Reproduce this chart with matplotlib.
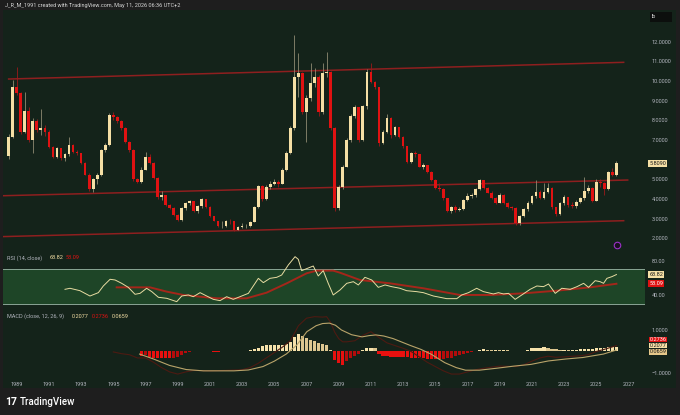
import numpy as np
import pandas as pd
import matplotlib
matplotlib.use("Agg")
import matplotlib.pyplot as plt
from matplotlib.patches import Rectangle

plt.rcParams['font.family'] = ['Roboto', 'DejaVu Sans']

# ---------------- data (quarterly candles, 1988 Q3 .. 2026 Q2) ----------------
quarters = pd.period_range('1988Q3', '2026Q2', freq='Q')
first_open = 6.20
closes = [
    7.17, 9.71,
    9.37, 7.42, 8.49, 7.00,
    7.98, 7.50, 7.59, 7.42,
    6.66, 6.15, 6.57, 6.06,
    6.28, 6.74, 6.40, 6.32,
    5.84, 5.22, 4.49, 4.99,
    5.22, 6.49, 6.74, 8.27,
    8.15, 7.95, 7.60, 6.91,
    6.50, 4.99, 4.88, 5.47,
    6.15, 5.85, 5.05, 4.10,
    4.20, 3.68, 3.55, 3.20,
    2.93, 3.55, 3.77, 3.88,
    3.40, 3.64, 3.97, 3.60,
    3.12, 2.88, 2.60, 2.62,
    2.89, 2.85, 2.42, 2.55,
    2.60, 2.62, 2.84, 3.60,
    4.66, 3.98, 4.62, 4.76,
    4.88, 4.76, 5.47, 6.35,
    7.59, 10.19, 10.39, 8.44,
    9.12, 9.88, 10.22, 8.44,
    10.39, 10.47, 7.60, 3.52,
    4.62, 5.64, 6.99, 8.22,
    8.66, 6.99, 8.73, 10.47,
    9.97, 9.68, 6.83, 7.42,
    8.10, 7.25, 7.64, 7.17,
    6.69, 5.90, 6.35, 6.28,
    5.64, 5.70, 5.39, 4.96,
    4.54, 4.49, 4.03, 3.40,
    3.57, 3.42, 3.47, 3.94,
    4.15, 4.20, 4.49, 4.96,
    4.54, 4.32, 4.03, 3.81,
    4.20, 3.77, 3.57, 3.55,
    2.75, 3.13, 3.47, 3.81,
    4.15, 4.37, 4.03, 4.37,
    4.54, 3.57, 3.23, 3.77,
    4.08, 3.69, 3.62, 3.85,
    4.03, 4.40, 4.54, 3.91,
    4.88, 4.80, 4.50, 5.35,
    5.22, 5.809,
]
highs = [
    7.30, 10.05,
    10.73, 9.45, 9.46, 8.70,
    8.10, 8.05, 8.60, 7.75,
    7.50, 6.70, 6.65, 6.60,
    6.35, 7.17, 6.80, 6.50,
    6.35, 5.90, 5.30, 5.05,
    5.30, 6.55, 6.85, 8.35,
    8.40, 8.20, 8.00, 7.65,
    6.95, 6.55, 5.05, 5.60,
    6.40, 6.30, 5.90, 5.10,
    4.40, 4.22, 3.75, 3.58,
    3.22, 3.60, 3.85, 3.95,
    3.90, 3.70, 4.05, 4.00,
    3.62, 3.15, 2.90, 2.85,
    2.95, 3.00, 2.88, 2.62,
    2.75, 2.72, 2.90, 3.65,
    4.70, 4.70, 4.70, 4.90,
    5.00, 4.95, 5.55, 6.45,
    7.70, 12.34, 11.41, 10.45,
    9.30, 10.90, 10.64, 10.30,
    10.90, 11.49, 10.50, 7.65,
    4.70, 5.70, 7.10, 8.30,
    8.80, 8.70, 8.80, 10.60,
    10.90, 10.00, 9.70, 7.50,
    8.30, 8.15, 7.70, 7.65,
    7.20, 6.70, 6.40, 6.45,
    6.30, 5.85, 5.75, 5.40,
    5.00, 4.80, 4.55, 4.05,
    3.65, 3.70, 3.60, 4.00,
    4.30, 4.30, 4.55, 5.00,
    4.98, 4.60, 4.38, 4.10,
    4.30, 4.25, 3.85, 3.65,
    3.60, 3.20, 3.55, 3.90,
    4.20, 4.96, 4.45, 4.80,
    4.83, 4.60, 3.60, 3.85,
    4.20, 4.12, 3.85, 3.95,
    4.10, 5.13, 4.70, 4.60,
    5.00, 5.00, 4.85, 5.40,
    5.55, 5.95,
]
lows = [
    6.05, 7.10,
    9.30, 7.30, 7.35, 6.90,
    6.32, 7.40, 7.25, 7.20,
    6.60, 6.10, 6.10, 6.00,
    5.95, 6.20, 6.35, 6.25,
    5.80, 5.20, 4.40, 4.37,
    4.76, 5.18, 6.40, 6.70,
    8.00, 7.85, 7.50, 6.85,
    6.40, 4.90, 4.80, 4.83,
    5.45, 5.80, 5.00, 4.00,
    3.95, 3.62, 3.50, 3.15,
    2.88, 2.90, 3.45, 3.70,
    3.35, 3.30, 3.55, 3.55,
    3.08, 2.85, 2.55, 2.50,
    2.58, 2.70, 2.38, 2.40,
    2.50, 2.52, 2.58, 2.80,
    3.55, 3.90, 3.95, 4.50,
    4.70, 4.60, 4.75, 5.40,
    6.30, 7.50, 9.20, 8.30,
    6.91, 9.00, 9.70, 8.20,
    8.30, 10.20, 7.50, 3.40,
    3.45, 4.50, 5.60, 6.90,
    8.10, 6.90, 6.95, 8.60,
    9.90, 9.60, 6.70, 6.80,
    7.35, 7.10, 7.20, 7.10,
    6.60, 5.85, 5.85, 6.15,
    5.60, 5.50, 5.30, 4.90,
    4.50, 4.40, 3.95, 3.35,
    3.30, 3.35, 3.38, 3.45,
    3.90, 4.05, 4.10, 4.45,
    4.50, 4.28, 4.00, 3.75,
    3.78, 3.72, 3.52, 3.45,
    2.65, 2.67, 3.10, 3.40,
    3.75, 4.03, 4.00, 4.00,
    4.30, 3.50, 3.15, 3.20,
    3.70, 3.60, 3.55, 3.55,
    3.80, 3.95, 4.30, 3.85,
    3.88, 4.60, 4.20, 4.45,
    5.15, 5.15,
]
opens = [first_open] + closes[:-1]

# channel lines (start/end time, start/end price)
channel_t = [(1988.5, 2026.7), (1988.1, 2026.95), (1988.1, 2026.7)]
channel_p = [(10.10, 10.95), (4.16, 4.96), (2.08, 2.89)]

# RSI(14) (decimal year, value)
rsi_t = [1992.00, 1992.31, 1992.93, 1993.55, 1994.07, 1994.38, 1994.80, 1995.11, 1995.52, 1995.93,
         1996.35, 1996.66, 1997.07, 1997.39, 1997.80, 1998.32, 1998.94, 1999.25, 1999.66, 1999.97,
         2000.39, 2000.80, 2001.21, 2001.63, 2002.04, 2002.45, 2002.87, 2003.39, 2004.01, 2004.32,
         2004.73, 2005.15, 2005.46, 2005.87, 2006.29, 2006.49, 2006.70, 2007.42, 2007.73, 2008.04,
         2008.35, 2008.66, 2009.08, 2009.50, 2009.91, 2010.22, 2010.63, 2011.05, 2011.46, 2011.88,
         2012.29, 2012.81, 2013.22, 2013.84, 2014.26, 2014.88, 2015.29, 2015.71, 2016.33, 2016.64,
         2017.06, 2017.57, 2017.99, 2018.61, 2018.92, 2019.24, 2019.55, 2019.96, 2020.37, 2020.89,
         2021.31, 2021.72, 2022.03, 2022.45, 2022.86, 2023.38, 2023.80, 2024.21, 2024.52, 2024.93,
         2025.24, 2025.45, 2025.66, 2025.97, 2026.25]
rsi_v = [46.6, 47.8, 45.0, 38.8, 42.7, 50.5, 58.3, 57.5, 53.6, 48.9,
         40.8, 41.9, 47.8, 43.9, 37.3, 36.1, 32.2, 38.8, 40.0, 38.0,
         42.7, 38.8, 34.9, 33.4, 38.0, 34.9, 38.0, 41.9, 59.4, 54.4,
         59.4, 60.6, 63.3, 75.0, 84.7, 81.6, 68.4, 73.8, 62.2, 68.4,
         53.6, 40.0, 45.8, 53.6, 55.5, 51.7, 60.6, 57.5, 48.9, 51.7,
         49.7, 47.8, 45.0, 43.9, 42.7, 38.8, 37.3, 35.7, 35.7, 40.0,
         42.7, 47.8, 43.9, 41.2, 42.7, 41.2, 41.9, 34.9, 40.0, 46.6,
         50.5, 49.7, 52.8, 41.9, 47.8, 46.6, 49.7, 53.6, 48.9, 56.7,
         55.5, 53.6, 59.4, 61.4, 63.82]
rsi_ma_t = [1995.21, 1997.28, 1998.32, 1999.35, 2001.42, 2003.28, 2004.52, 2005.77, 2007.01, 2007.63,
            2008.66, 2009.08, 2010.32, 2012.18, 2014.26, 2016.53, 2018.40, 2020.47, 2022.54, 2024.61, 2026.25]
rsi_ma_v = [48.9, 48.9, 43.9, 40.0, 36.1, 36.1, 42.7, 53.6, 65.3, 68.4,
            68.4, 66.0, 57.5, 53.6, 47.8, 40.0, 40.0, 41.9, 45.0, 48.9, 53.09]

# MACD (12, 26, 9): signal line (gold), MACD line (dark red), histogram
signal_t = [1996.63, 1997.5, 1998.5, 1999.53, 2000.6, 2001.5, 2002.5, 2003.39, 2004.3, 2005.0,
            2005.74, 2006.4, 2007.02, 2007.6, 2008.0, 2008.42, 2008.8, 2009.17, 2009.8, 2010.45,
            2010.9, 2011.31, 2011.8, 2012.38, 2013.45, 2014.1, 2014.73, 2015.59, 2016.3, 2016.88,
            2017.73, 2018.8, 2019.88, 2020.94, 2022.02, 2023.1, 2024.16, 2025.44, 2026.25]
signal_v = [-0.12, -0.35, -0.65, -0.84, -0.90, -0.90, -0.90, -0.86, -0.70, -0.45,
            -0.12, 0.30, 0.92, 1.20, 1.30, 1.32, 1.22, 1.00, 0.78, 0.68,
            0.74, 0.77, 0.72, 0.60, 0.28, 0.10, -0.12, -0.52, -0.75, -0.87,
            -0.87, -0.78, -0.68, -0.60, -0.44, -0.35, -0.28, -0.12, 0.0659]
macd_t = [1995.0, 1995.5, 1996.0, 1996.5, 1997.0, 1997.5, 1998.0, 1998.5, 1999.0, 1999.5,
          2000.0, 2001.0, 2002.0, 2003.0, 2003.5, 2004.0, 2004.5, 2005.0, 2005.5, 2006.0,
          2006.5, 2007.0, 2007.5, 2008.0, 2008.25, 2008.5, 2008.75, 2009.0, 2009.25, 2009.5,
          2010.0, 2010.5, 2011.0, 2011.5, 2012.0, 2013.0, 2013.5, 2014.0, 2014.5, 2015.0,
          2015.5, 2016.0, 2016.5, 2017.0, 2017.5, 2018.0, 2019.0, 2020.0, 2020.5, 2021.0,
          2021.5, 2022.0, 2022.5, 2023.0, 2024.0, 2024.5, 2025.0, 2025.5, 2026.25]
macd_v = [-0.02, -0.10, -0.15, -0.30, -0.30, -0.50, -0.75, -0.95, -1.05, -0.95,
          -0.88, -0.90, -0.88, -0.85, -0.75, -0.55, -0.30, -0.05, 0.20, 0.50,
          1.20, 1.55, 1.62, 1.60, 1.62, 1.35, 0.90, 0.60, 0.45, 0.45,
          0.50, 0.75, 0.92, 0.65, 0.40, 0.15, 0.00, -0.25, -0.50, -0.70,
          -0.90, -1.05, -1.05, -0.95, -0.85, -0.78, -0.68, -0.70, -0.62, -0.45,
          -0.30, -0.22, -0.27, -0.25, -0.20, -0.15, 0.00, 0.10, 0.2736]
# histogram, quarterly from 1996 Q4 to 2026 Q2
hist = [
    -0.20,                          # 1996 Q4
    -0.15, -0.25, -0.30, -0.30,     # 1997
    -0.30, -0.32, -0.32, -0.30,     # 1998
    -0.25, -0.15, -0.08, -0.03,     # 1999
    0.01, 0.03, 0.03, 0.02,         # 2000
    0.00, -0.01, -0.01, 0.00,       # 2001
    0.01, 0.02, 0.02, 0.02,         # 2002
    0.03, 0.04, 0.06, 0.10,         # 2003
    0.18, 0.25, 0.28, 0.30,         # 2004
    0.30, 0.30, 0.31, 0.35,         # 2005
    0.43, 0.67, 0.80, 0.70,         # 2006
    0.64, 0.55, 0.48, 0.40,         # 2007
    0.35, 0.32, 0.06, -0.40,        # 2008
    -0.55, -0.61, -0.45, -0.29,     # 2009
    -0.20, -0.10, 0.06, 0.16,       # 2010
    0.16, 0.15, -0.13, -0.22,       # 2011
    -0.23, -0.24, -0.25, -0.25,     # 2012
    -0.26, -0.27, -0.28, -0.29,     # 2013
    -0.29, -0.30, -0.33, -0.36,     # 2014
    -0.37, -0.37, -0.33, -0.29,     # 2015
    -0.28, -0.22, -0.16, -0.10,     # 2016
    -0.05, -0.02, 0.04, 0.08,       # 2017
    0.10, 0.09, 0.08, 0.08,         # 2018
    0.07, 0.07, 0.06, 0.04,         # 2019
    0.01, 0.01, 0.03, 0.08,         # 2020
    0.14, 0.17, 0.18, 0.19,         # 2021
    0.18, 0.13, 0.10, 0.09,         # 2022
    0.09, 0.08, 0.08, 0.09,         # 2023
    0.10, 0.11, 0.12, 0.12,         # 2024
    0.15, 0.17, 0.18, 0.19,         # 2025
    0.20, 0.2077,                   # 2026
]

years_lbl = list(range(1989, 2028, 2))
price_ticks = [2, 3, 4, 5, 7, 8, 9, 10, 11, 12]

# ---------------- styling ----------------
FIG_BG = '#1e1e1e'
CARD = '#14231a'
UP = '#f5dfa5'
DN = '#e01212'
TXT = '#b2b5be'
CHAN = '#8e1f1f'

W, H = 680, 415
fig = plt.figure(figsize=(6.8, 4.15), dpi=100, facecolor=FIG_BG)

def ax_rect(x0, y0, x1, y1):
    return [x0 / W, 1 - y1 / H, (x1 - x0) / W, (y1 - y0) / H]

fig.patches.append(Rectangle((3 / W, 1 - 388 / H), 673 / W, 378 / H, transform=fig.transFigure,
                             facecolor=CARD, edgecolor='none', zorder=-10))

ax = fig.add_axes(ax_rect(3, 10, 645, 250))
ax_r = fig.add_axes(ax_rect(3, 252, 645, 310), sharex=ax)
ax_m = fig.add_axes(ax_rect(3, 310, 645, 376), sharex=ax)

t = np.array([q.start_time.year + (q.quarter - 1) / 4 for q in quarters])
o = np.array(opens); c = np.array(closes); hi = np.array(highs); lo = np.array(lows)
up = c >= o
col = np.where(up, UP, DN)
wcol = np.where(up, '#8f8b72', '#9a1a1a')

for a in (ax, ax_r, ax_m):
    a.set_facecolor('none')
    for s in a.spines.values():
        s.set_visible(False)
    a.tick_params(axis='both', length=0, colors=TXT, labelsize=4)
    a.yaxis.tick_right()
    a.tick_params(axis='y', pad=5)

# channels
for (t0, t1), (p0, p1) in zip(channel_t, channel_p):
    ax.plot([t0, t1], [p0, p1], color=CHAN, lw=1.1, zorder=1)

ax.vlines(t, lo, hi, colors=wcol, lw=0.6, zorder=2)
ax.bar(t, np.maximum(np.abs(c - o), 0.03), bottom=np.minimum(o, c), width=0.17,
       color=col, linewidth=0, zorder=3)

ax.set_xlim(1988.149, 2028.025)
ax.set_ylim(1.399, 13.613)
ax.set_yticks(price_ticks)
ax.set_yticklabels([f'{v:.4f}' for v in price_ticks])
ax.tick_params(axis='x', labelbottom=False)

# last price label
ax.annotate('5.8090', xy=(1.0, closes[-1]), xycoords=('axes fraction', 'data'),
            xytext=(3.0, 0), textcoords='offset points', va='center', ha='left',
            fontsize=4, color='#1a1a1a',
            bbox=dict(boxstyle='square,pad=0.2', fc=UP, ec='none'))
# unit box
fig.patches.append(Rectangle((650 / W, 1 - 22 / H), 22 / W, 10 / H, transform=fig.transFigure,
                             facecolor='#0c0f0d', edgecolor='none', zorder=5))
fig.text(652 / W, 1 - 17 / H, 'lb', fontsize=4, color='#d0d0d0', va='center', ha='left', zorder=6)
# purple icon
ax.scatter([0.956], [0.021], transform=ax.transAxes, s=22, facecolor='#1a1020',
           edgecolor='#9b30c8', lw=0.8, zorder=5)

# RSI pane
ax_r.axhspan(30, 70, color='#1e4527', zorder=0, lw=0)
ax_r.axhline(70, color='#8aa595', lw=0.7)
ax_r.axhline(30, color='#8aa595', lw=0.7)
ax_r.plot(rsi_ma_t, rsi_ma_v, color='#a5261a', lw=1.4, zorder=2)
ax_r.plot(rsi_t, rsi_v, color='#e8dca2', lw=0.7, zorder=3)
ax_r.set_ylim(22.47, 90.15)
ax_r.set_yticks([40, 80])
ax_r.set_yticklabels(['40.00', '80.00'])
ax_r.tick_params(axis='x', labelbottom=False)
ax_r.text(0.006, 0.9, 'RSI (14, close)', transform=ax_r.transAxes, fontsize=4, color=TXT, va='center')
ax_r.text(0.073, 0.9, '63.82', transform=ax_r.transAxes, fontsize=4, color=UP, va='center')
ax_r.text(0.098, 0.9, '53.09', transform=ax_r.transAxes, fontsize=4, color=DN, va='center')
for val, fc, tc in [(63.82, UP, '#1a1a1a'), (53.09, DN, '#ffffff')]:
    ax_r.annotate(f'{val:.2f}', xy=(1.0, val), xycoords=('axes fraction', 'data'),
                  xytext=(3.0, 0), textcoords='offset points', va='center', ha='left',
                  fontsize=4, color=tc, bbox=dict(boxstyle='square,pad=0.2', fc=fc, ec='none'))

# MACD pane
ht = t[t >= 1996.75]
hv = np.array(hist)
prev = np.concatenate([[0.0], hv[:-1]])
hcol = np.where(hv >= 0, np.where(hv >= prev, '#f6e2ab', '#dcc690'),
                np.where(hv <= prev, '#e8100f', '#b30c0c'))
ax_m.bar(ht, hv, width=0.2, color=hcol, linewidth=0, zorder=2)
ax_m.plot(macd_t, macd_v, color='#4d1a12', lw=0.8, zorder=3)
ax_m.plot(signal_t, signal_v, color='#b9a46a', lw=0.8, zorder=4)
ax_m.set_ylim(-1.14, 1.93)
ax_m.set_yticks([1, -1])
ax_m.set_yticklabels(['1.0000', '\u22121.0000'])
ax_m.set_xticks(years_lbl)
ax_m.set_xticklabels([str(y) for y in years_lbl])
ax_m.tick_params(axis='x', pad=4)
ax_m.text(0.006, 0.9, 'MACD (close, 12, 26, 9)', transform=ax_m.transAxes, fontsize=4, color=TXT, va='center')
ax_m.text(0.107, 0.9, '0.2077', transform=ax_m.transAxes, fontsize=4, color=UP, va='center')
ax_m.text(0.138, 0.9, '0.2736', transform=ax_m.transAxes, fontsize=4, color=DN, va='center')
ax_m.text(0.169, 0.9, '0.0659', transform=ax_m.transAxes, fontsize=4, color=UP, va='center')
for val, ypx, fc, tc in [('0.2736', 339.3, DN, '#ffffff'), ('0.2077', 345.6, UP, '#1a1a1a'),
                          ('0.0659', 351.9, '#e6c88a', '#1a1a1a')]:
    fig.text(649.5 / W, 1 - ypx / H, val, fontsize=4, color=tc, va='center', ha='left',
             bbox=dict(boxstyle='square,pad=0.05', fc=fc, ec='none'))

# header & footer
fig.text(5 / W, 1 - 5.5 / H, 'J_R_M_1991 created with TradingView.com, May 11, 2026 06:36 UTC+2',
         fontsize=4, color='#d8d8d8', va='center', ha='left')
fig.text(5 / W, 1 - 402 / H, '17', fontsize=7.5, fontweight='bold', color='#ffffff', va='center', ha='left')
fig.text(20 / W, 1 - 402 / H, 'TradingView', fontsize=7, fontweight='medium', color='#ffffff',
         va='center', ha='left')

fig.savefig('out.png', dpi=100, facecolor=FIG_BG)
